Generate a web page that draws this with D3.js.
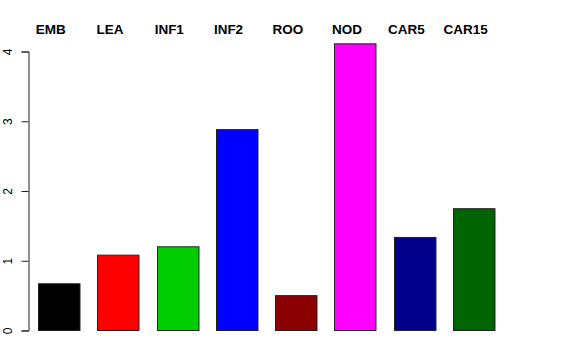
<!DOCTYPE html>
<html>
<head>
<meta charset="utf-8">
<script src="https://cdn.jsdelivr.net/npm/d3@7"></script>
<style>
  body { margin: 0; background: #fff; }
  text { font-family: "Liberation Sans", Arial, sans-serif; }
</style>
</head>
<body>
<div id="chart"></div>
<script>
// data
const categories = ["EMB", "LEA", "INF1", "INF2", "ROO", "NOD", "CAR5", "CAR15"];
const values = [0.67, 1.08, 1.20, 2.88, 0.50, 4.11, 1.334, 1.746];
const barColors = ["#000000", "#ff0000", "#00cd00", "#0000ff", "#8b0000", "#ff00ff", "#00008b", "#006400"];
const yTicks = [0, 1, 2, 3, 4];

const width = 576, height = 360;

const svg = d3.select("#chart")
  .append("svg")
  .attr("width", width)
  .attr("height", height);

// scales
const x = d3.scaleBand()
  .domain(categories)
  .range([38, 494.3])
  .paddingInner(0.3)
  .paddingOuter(0);

const y = d3.scaleLinear()
  .domain([0, 4])
  .range([330.5, 51.5]);

// bars
svg.selectAll("rect.bar")
  .data(categories)
  .enter()
  .append("rect")
  .attr("class", "bar")
  .attr("x", d => Math.round(x(d)) + 0.5)
  .attr("y", (d, i) => y(values[i]))
  .attr("width", x.bandwidth())
  .attr("height", (d, i) => y(0) - y(values[i]))
  .attr("fill", (d, i) => barColors[i])
  .attr("stroke", "#222")
  .attr("stroke-width", 1);

// y axis
const axis = svg.append("g")
  .attr("transform", "translate(28.5,0)")
  .call(d3.axisLeft(y).tickValues(yTicks).tickSize(7).tickPadding(9).tickFormat(d3.format("d")));

axis.select(".domain").attr("stroke", "#222");
axis.selectAll(".tick line").attr("stroke", "#222");
axis.selectAll(".tick text")
  .attr("font-size", 12)
  .attr("fill", "#000")
  .attr("text-anchor", "middle")
  .attr("dy", null)
  .attr("x", null)
  .attr("transform", "translate(-16.5,0) rotate(-90)")
  .attr("dominant-baseline", "auto");

// category labels at top
svg.selectAll("text.cat")
  .data(categories)
  .enter()
  .append("text")
  .attr("class", "cat")
  .attr("x", d => x(d) + x.bandwidth() / 2 - 8)
  .attr("y", 34)
  .attr("text-anchor", "middle")
  .attr("font-size", 13.5)
  .attr("font-weight", "bold")
  .text(d => d);
</script>
</body>
</html>
